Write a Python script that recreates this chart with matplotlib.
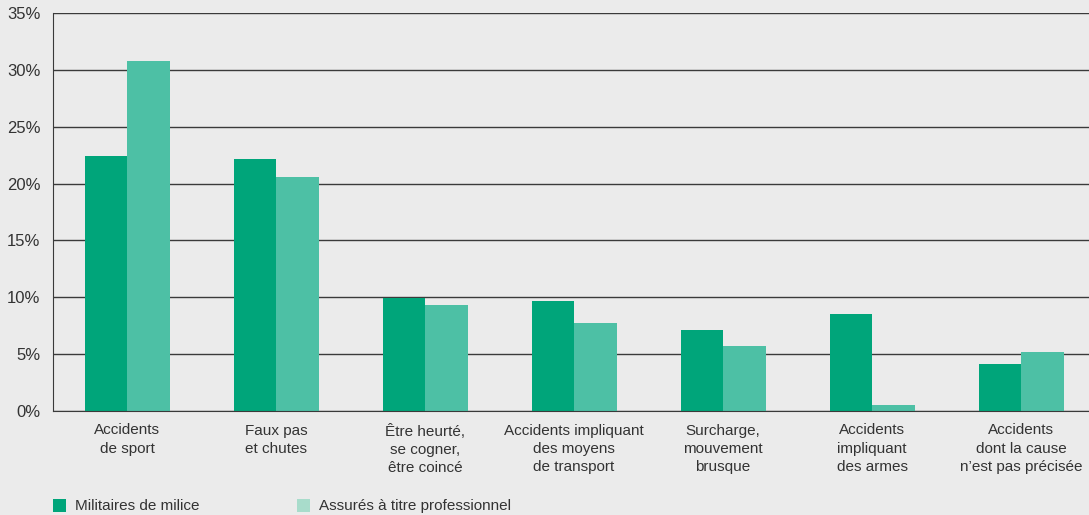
import numpy as np
import matplotlib.pyplot as plt
from matplotlib.patches import Rectangle

categories = [
    "Accidents\nde sport",
    "Faux pas\net chutes",
    "Être heurté,\nse cogner,\nêtre coincé",
    "Accidents impliquant\ndes moyens\nde transport",
    "Surcharge,\nmouvement\nbrusque",
    "Accidents\nimpliquant\ndes armes",
    "Accidents\ndont la cause\nn’est pas précisée",
]
milice = [22.4, 22.2, 9.9, 9.7, 7.1, 8.5, 4.1]
professionnel = [30.8, 20.6, 9.3, 7.7, 5.7, 0.5, 5.2]
series_labels = ["Militaires de milice", "Assurés à titre professionnel"]
yticks = [0, 5, 10, 15, 20, 25, 30, 35]

BG = "#ebebeb"
DARK = "#00a57a"
LIGHT = "#4dc0a5"
LEGEND_LIGHT = "#a8dccb"
TXT = "#333333"
W, H = 1089, 515

plt.rcParams['font.family'] = ['Liberation Sans', 'DejaVu Sans']

fig = plt.figure(figsize=(W / 100, H / 100), dpi=100, facecolor=BG)
ax = fig.add_axes([53 / W, 1 - 411 / H, 1 - 53 / W, 398 / H])
ax.set_facecolor(BG)

x = np.arange(len(categories))
w = 0.285
ax.bar(x - w / 2, milice, width=w, color=DARK, zorder=3)
ax.bar(x + w / 2, professionnel, width=w, color=LIGHT, zorder=3)

ax.set_xlim(-0.497, 6.456)
ax.set_ylim(0, 35)
ax.set_yticks(yticks)
ax.set_yticklabels([f"{v}%" for v in yticks])
ax.grid(axis='y', color="#3a3a3a", linewidth=1.0, zorder=1)
ax.set_xticks(x)
ax.set_xticklabels(categories, linespacing=1.4)
ax.tick_params(axis='both', length=0, labelsize=11, colors=TXT)
ax.tick_params(axis='x', pad=9)
ax.tick_params(axis='y', pad=9, labelsize=12)

for s in ['top', 'right']:
    ax.spines[s].set_visible(False)
for s in ['left', 'bottom']:
    ax.spines[s].set_color("#3a3a3a")
    ax.spines[s].set_zorder(4)

# legend drawn by hand to sit where the reference has it
legend_items = [(53, DARK), (297, LEGEND_LIGHT)]
for (px, col), label in zip(legend_items, series_labels):
    fig.add_artist(Rectangle((px / W, 1 - 512 / H), 13 / W, 13 / H,
                             transform=fig.transFigure, color=col, lw=0))
    fig.text((px + 22) / W, 1 - 506 / H, label, fontsize=11, color=TXT,
             va='center', ha='left')

fig.savefig("out.png", dpi=100, facecolor=BG)
